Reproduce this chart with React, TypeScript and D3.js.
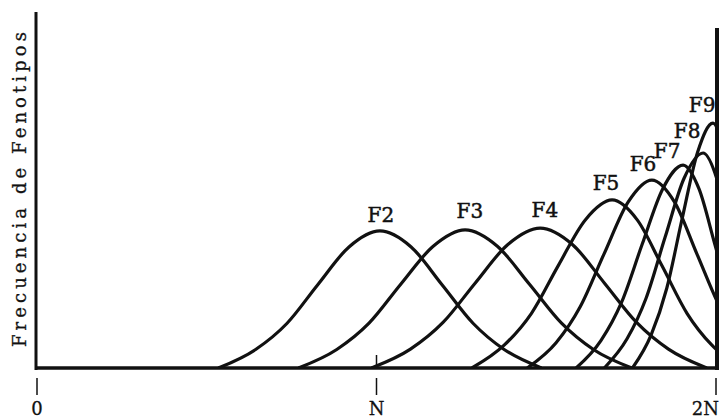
import React from 'react';
import * as d3 from 'd3';

// generaciones y sus curvas de frecuencia (x: 0..200 = 0..2N, h: 0..100 = alto del eje)
const generations = ['F2', 'F3', 'F4', 'F5', 'F6', 'F7', 'F8', 'F9'];

const F2 = [[53.4, 0], [64.4, 5.2], [73.6, 12.5], [82.7, 23.4], [91.9, 34.0], [101.0, 38.5],
  [110.2, 34.0], [119.3, 23.4], [128.5, 12.5], [137.6, 5.2], [148.6, 0]];
const F3 = [[77.0, 0], [88.3, 5.2], [97.8, 12.6], [107.2, 23.6], [116.7, 34.2], [126.1, 38.8],
  [135.6, 34.2], [145.0, 23.6], [154.5, 12.6], [163.9, 5.2], [175.2, 0]];
const F4 = [[98.5, 0], [110.0, 5.3], [119.6, 12.8], [129.1, 23.9], [138.7, 34.7], [148.2, 39.3],
  [157.7, 34.7], [167.1, 23.9], [176.6, 12.8], [186.0, 5.3], [197.3, 0]];
const F5 = [[128.1, 0], [137.6, 6.4], [145.6, 15.3], [153.5, 28.7], [161.5, 41.6], [169.4, 47.2],
  [176.8, 41.6], [184.1, 28.7], [191.5, 15.3], [198.8, 6.4], [207.6, 0]];
const F6 = [[144.4, 0], [152.9, 7.1], [160.0, 17.2], [167.0, 32.0], [174.1, 46.6], [181.1, 52.8],
  [187.8, 46.6], [194.4, 32.0], [201.1, 17.2], [207.7, 7.1], [215.7, 0]];
const F7 = [[158.8, 0], [166.1, 7.7], [172.2, 18.5], [178.2, 34.6], [184.3, 50.3], [190.3, 57.0],
  [195.0, 50.3], [199.7, 34.6], [204.4, 18.5], [209.1, 7.7], [214.7, 0]];
const F8 = [[167.1, 0], [173.8, 8.2], [179.4, 19.6], [185.0, 36.7], [190.6, 53.3], [196.2, 60.4],
  [200.2, 53.3], [204.2, 36.7], [208.2, 19.6], [212.2, 8.2], [217.0, 0]];
const F9 = [[175.4, 0], [180.9, 9.3], [185.5, 22.4], [190.0, 41.8], [194.6, 60.7], [199.1, 68.8],
  [202.1, 60.7], [205.0, 41.8], [208.0, 22.4], [210.9, 9.3], [214.4, 0]];
const curves = [F2, F3, F4, F5, F6, F7, F8, F9];

// posicion de cada etiqueta (en unidades de datos)
const labelX = [101.3, 127.5, 149.6, 167.6, 178.5, 185.6, 191.5, 195.9];
const labelY = [41.0, 42.1, 42.4, 50.0, 55.3, 59.0, 64.6, 71.9];

const tickValues = [0, 100, 200];
const tickLabels = ['0', 'N', '2N'];

const W = 720;
const H = 419;
const font = '"DejaVu Serif", serif';

export default function App() {
  const x = d3.scaleLinear().domain([0, 200]).range([37, 716]);
  const y = d3.scaleLinear().domain([0, 100]).range([368, 12]);
  const line = d3.line<number[]>()
    .x(d => x(d[0]))
    .y(d => y(d[1]))
    .curve(d3.curveMonotoneX);

  return (
    <svg width={W} height={H} style={{ position: 'absolute', left: 0, top: 0, background: '#fff' }}>
      <defs>
        <clipPath id="plot">
          <rect x={0} y={0} width={x(200)} height={y(0)} />
        </clipPath>
      </defs>

      <g clipPath="url(#plot)">
        {curves.map((c, i) => (
          <path key={i} d={line(c) || ''} fill="none" stroke="#111" strokeWidth={3.2} strokeLinejoin="round" />
        ))}
      </g>

      {generations.map((g, i) => (
        <text key={g} x={x(labelX[i])} y={y(labelY[i])} textAnchor="middle"
          fontFamily={font} fontSize={20} fill="#111" stroke="#111" strokeWidth={0.5}>{g}</text>
      ))}

      {/* ejes */}
      <line x1={x(0) - 1} y1={y(100)} x2={x(0) - 1} y2={y(0) + 2} stroke="#111" strokeWidth={3} />
      <line x1={x(0) - 2} y1={y(0)} x2={x(200) + 2} y2={y(0)} stroke="#111" strokeWidth={3.5} />
      <line x1={x(200) + 1} y1={y(95.5)} x2={x(200) + 1} y2={y(0) + 2} stroke="#111" strokeWidth={4} />

      {tickValues.map((t, i) => (
        <line key={t} x1={x(t)} y1={y(0) + 10} x2={x(t)} y2={y(0) + 27} stroke="#111" strokeWidth={1.5} />
      ))}
      <line x1={x(100)} y1={y(0) - 13} x2={x(100)} y2={y(0)} stroke="#111" strokeWidth={1.5} />
      <text x={x(0)} y={415} textAnchor="middle" fontFamily={font} fontSize={18} fill="#111"
        stroke="#111" strokeWidth={0.3}>{tickLabels[0]}</text>
      <text x={x(100)} y={415} textAnchor="middle" fontFamily={font} fontSize={18} fill="#111"
        stroke="#111" strokeWidth={0.3}>{tickLabels[1]}</text>
      <text x={719} y={415} textAnchor="end" fontFamily={font} fontSize={18} fill="#111"
        stroke="#111" strokeWidth={0.3}>{tickLabels[2]}</text>

      <text transform={`translate(26, ${(32 + 347) / 2}) rotate(-90)`} textAnchor="middle"
        fontFamily={font} fontSize={18} fill="#111" stroke="#111" strokeWidth={0.3}
        textLength={315} lengthAdjust="spacing">Frecuencia de Fenotipos</text>
    </svg>
  );
}
